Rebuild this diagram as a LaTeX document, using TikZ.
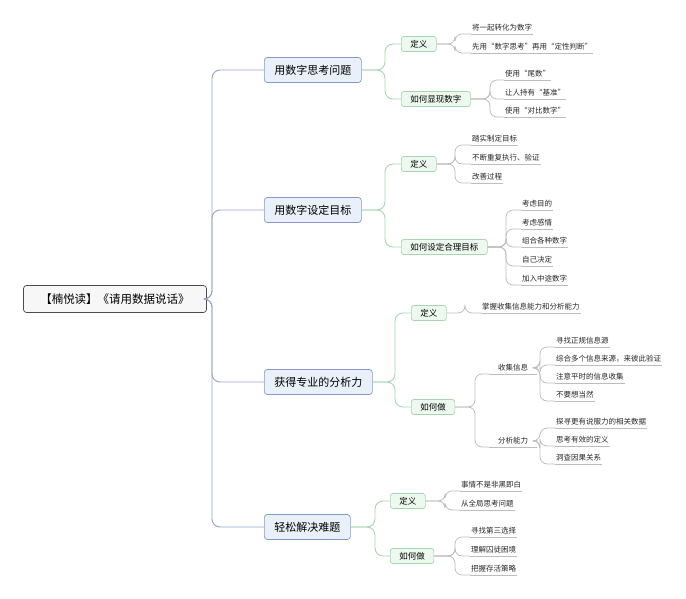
\documentclass[tikz,border=0pt]{standalone}
\usepackage{fontspec}
\newfontfamily\cjk{Noto Sans CJK SC}
\definecolor{mainln}{HTML}{8FA8C8}
\definecolor{mainfill}{HTML}{E9F0FA}
\definecolor{mainbd}{HTML}{7E9CC6}
\definecolor{grnbd}{HTML}{A5D6AE}
\definecolor{grnfill}{HTML}{EDF8EF}
\definecolor{leafln}{HTML}{BDBDBD}
\newcommand\leaf[6]{%
  \node[leafst] (#1) at (#2,#3) {#4};
  \coordinate (tb) at (#6,0);
  \draw[leafln,line width=0.8pt,rounded corners=7pt] (#5.east) -- (tb |- #5.east) -- (#6,#3) -- (#1.south west);
  \draw[leafln,line width=0.8pt] (#1.south west) -- (#1.south east);}
\begin{document}
\begin{tikzpicture}[x=1pt,y=-1pt,font=\cjk,
  rootst/.style={draw=black!70,fill=black!3,rounded corners=3pt,line width=0.7pt,minimum width=183pt,minimum height=27pt,font=\cjk\fontsize{11.5}{13}\selectfont},
  mainst/.style={anchor=west,draw=mainbd,fill=mainfill,rounded corners=3pt,line width=0.7pt,minimum height=25pt,inner xsep=10pt,font=\cjk\fontsize{11}{13}\selectfont},
  grnst/.style={anchor=west,draw=grnbd,fill=grnfill,rounded corners=2.5pt,line width=0.7pt,minimum height=15pt,inner xsep=9pt,inner ysep=1pt,font=\cjk\fontsize{8.5}{10}\selectfont},
  leafst/.style={anchor=south west,inner xsep=1pt,inner ysep=2.5pt,font=\cjk\fontsize{7.5}{9}\selectfont,text=black!85},
  mln/.style={mainln,line width=0.9pt,rounded corners=8pt},
  gln/.style={grnbd,line width=0.9pt,rounded corners=8pt}]
\useasboundingbox (0,0) rectangle (686,599);
\node[rootst] (root) at (115,299) {【楠悦读】《请用数据说话》};
\node[mainst] (m1) at (264,70) {用数字思考问题};
\node[mainst] (m2) at (264,210) {用数字设定目标};
\node[mainst] (m3) at (264,382) {获得专业的分析力};
\node[mainst] (m4) at (264,527) {轻松解决难题};
\foreach \m/\y in {m1/70,m2/210,m3/382,m4/527}
  \draw[mln] (root.east) -- (212,299) -- (212,\y) -- (\m.west);
% level 2
\node[grnst] (a1) at (401,44) {定义};
\node[grnst] (a2) at (401,99) {如何显现数字};
\node[grnst] (b1) at (401,164) {定义};
\node[grnst] (b2) at (401,247) {如何设定合理目标};
\node[grnst] (c1) at (411,313) {定义};
\node[grnst] (c2) at (411,407) {如何做};
\node[grnst] (d1) at (390,501) {定义};
\node[grnst] (d2) at (390,556) {如何做};
\draw[gln] (m1.east) -- (385,70) -- (385,44) -- (a1.west);
\draw[gln] (m1.east) -- (385,70) -- (385,99) -- (a2.west);
\draw[gln] (m2.east) -- (385,210) -- (385,164) -- (b1.west);
\draw[gln] (m2.east) -- (385,210) -- (385,247) -- (b2.west);
\draw[gln] (m3.east) -- (395,382) -- (395,313) -- (c1.west);
\draw[gln] (m3.east) -- (395,382) -- (395,407) -- (c2.west);
\draw[gln] (m4.east) -- (375,527) -- (375,501) -- (d1.west);
\draw[gln] (m4.east) -- (375,527) -- (375,556) -- (d2.west);
% leaves
\leaf{a11}{471}{34}{将一起转化为数字}{a1}{455}
\leaf{a12}{471}{53}{先用“数字思考”再用“定性判断”}{a1}{455}
\leaf{a21}{504}{80}{使用“尾数”}{a2}{490}
\leaf{a22}{504}{99}{让人持有“基准”}{a2}{490}
\leaf{a23}{504}{117}{使用“对比数字”}{a2}{490}
\leaf{b11}{471}{145}{踏实制定目标}{b1}{455}
\leaf{b12}{471}{164}{不断重复执行、验证}{b1}{455}
\leaf{b13}{471}{183}{改善过程}{b1}{455}
\leaf{b21}{521}{210}{考虑目的}{b2}{506}
\leaf{b22}{521}{229}{考虑感情}{b2}{506}
\leaf{b23}{521}{247}{组合各种数字}{b2}{506}
\leaf{b24}{521}{266}{自己决定}{b2}{506}
\leaf{b25}{521}{285}{加入中途数字}{b2}{506}
\leaf{c11}{481}{313}{掌握收集信息能力和分析能力}{c1}{465}
\node[leafst,minimum width=48pt] (c21) at (489,374) {收集信息};
\draw[leafln,line width=0.8pt,rounded corners=7pt] (c2.east) -- (475,407) -- (475,374) -- (c21.south west);
\draw[leafln,line width=0.8pt] (c21.south west) -- (c21.south east);
\node[leafst,minimum width=48pt] (c22) at (489,447) {分析能力};
\draw[leafln,line width=0.8pt,rounded corners=7pt] (c2.east) -- (475,407) -- (475,447) -- (c22.south west);
\draw[leafln,line width=0.8pt] (c22.south west) -- (c22.south east);
\leaf{c211}{555}{347}{寻找正规信息源}{c21}{540}
\leaf{c212}{555}{365}{综合多个信息来源，来彼此验证}{c21}{540}
\leaf{c213}{555}{383}{注意平时的信息收集}{c21}{540}
\leaf{c214}{555}{401}{不要想当然}{c21}{540}
\leaf{c221}{555}{428}{探寻更有说服力的相关数据}{c22}{540}
\leaf{c222}{555}{446}{思考有效的定义}{c22}{540}
\leaf{c223}{555}{464}{洞查因果关系}{c22}{540}
\leaf{d11}{460}{491}{事情不是非黑即白}{d1}{445}
\leaf{d12}{460}{510}{从全局思考问题}{d1}{445}
\leaf{d21}{470}{537}{寻找第三选择}{d2}{455}
\leaf{d22}{470}{556}{理解囚徒困境}{d2}{455}
\leaf{d23}{470}{575}{把握存活策略}{d2}{455}
\end{tikzpicture}
\end{document}
